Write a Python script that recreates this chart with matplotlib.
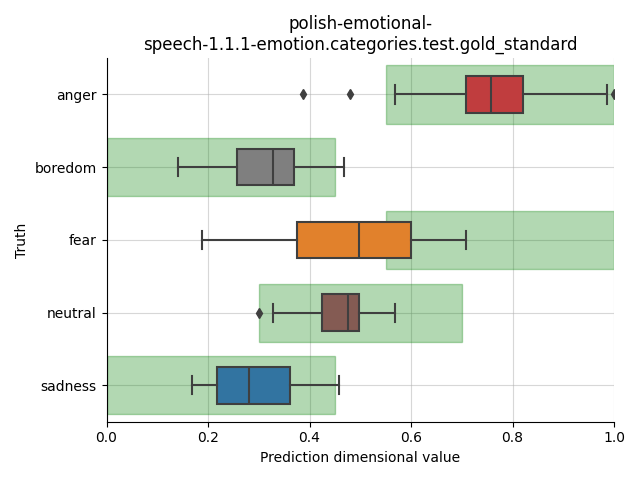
import matplotlib
matplotlib.use("Agg")
import matplotlib.pyplot as plt
from matplotlib.patches import Rectangle

CATEGORIES = ["anger", "boredom", "fear", "neutral", "sadness"]
WHIS_LO = [0.569, 0.141, 0.189, 0.329, 0.169]
Q1 = [0.708, 0.258, 0.375, 0.425, 0.218]
MEDIAN = [0.758, 0.329, 0.497, 0.475, 0.280]
Q3 = [0.820, 0.369, 0.600, 0.498, 0.361]
WHIS_HI = [0.987, 0.468, 0.708, 0.569, 0.458]
FLIERS = [[0.388, 0.479, 1.0], [], [], [0.300], []]
# expected range per category (green band)
RANGE_LO = [0.55, 0.0, 0.55, 0.3, 0.0]
RANGE_HI = [1.0, 0.45, 1.0, 0.7, 0.45]
BOX_COLORS = ["#c03d3e", "#7f7f7f", "#e1812c", "#845b53", "#3274a1"]
LINE_COL = "#3f3f3f"

stats = []
for i, cat in enumerate(CATEGORIES):
    stats.append(dict(label=cat, whislo=WHIS_LO[i], q1=Q1[i], med=MEDIAN[i],
                      q3=Q3[i], whishi=WHIS_HI[i], fliers=FLIERS[i]))

fig, ax = plt.subplots(figsize=(6.4, 4.8), dpi=100)
pos = list(range(len(CATEGORIES)))

for p, lo, hi in zip(pos, RANGE_LO, RANGE_HI):
    ax.add_patch(Rectangle((lo, p - 0.4), hi - lo, 0.8, color="green",
                           alpha=0.3, zorder=1))

bp = ax.bxp(stats, positions=pos, widths=0.5, capwidths=0.25, vert=False,
            patch_artist=True,
            boxprops=dict(edgecolor=LINE_COL, linewidth=1.5),
            medianprops=dict(color=LINE_COL, linewidth=1.5),
            whiskerprops=dict(color=LINE_COL, linewidth=1.5),
            capprops=dict(color=LINE_COL, linewidth=1.5),
            flierprops=dict(marker="d", markerfacecolor=LINE_COL,
                            markeredgecolor=LINE_COL, markersize=5))
for patch, col in zip(bp["boxes"], BOX_COLORS):
    patch.set_facecolor(col)
for k in ["boxes", "medians", "whiskers", "caps", "fliers"]:
    for art in bp[k]:
        art.set_zorder(3)

ax.set_xlim(0, 1)
ax.set_ylim(len(CATEGORIES) - 0.5, -0.5)
ax.set_yticks(pos)
ax.set_yticklabels(CATEGORIES)
ax.grid(True, alpha=0.5)
ax.set_axisbelow(True)
ax.spines["top"].set_visible(False)
ax.spines["right"].set_visible(False)
ax.set_xlabel("Prediction dimensional value")
ax.set_ylabel("Truth")
ax.set_title("polish-emotional-\nspeech-1.1.1-emotion.categories.test.gold_standard")
fig.tight_layout()
fig.savefig("out.png", dpi=100)
